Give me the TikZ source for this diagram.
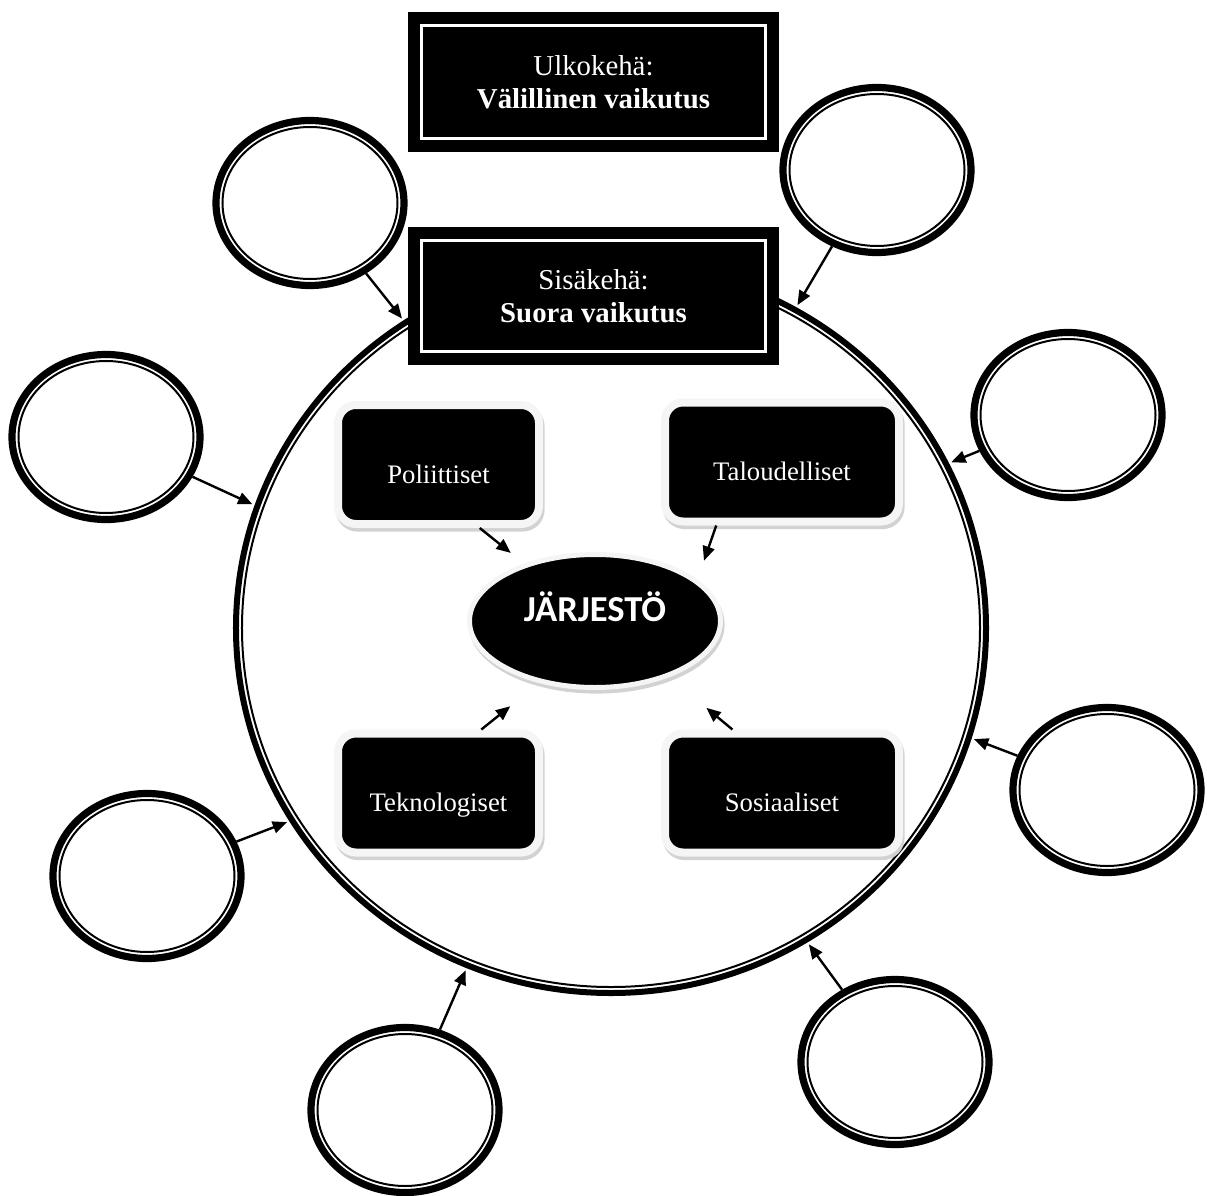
\documentclass[tikz,border=0pt]{standalone}
\usepackage{fontspec}
\setmainfont{Liberation Serif}
\newfontfamily\orgfont{Carlito}
\usepackage{tikz}
\usetikzlibrary{arrows.meta}
\usetikzlibrary{shapes.geometric,shadows}

\begin{document}
\begin{tikzpicture}[x=0.25mm,y=-0.25mm,
    ring/.style={draw,ellipse,line width=1.8mm,minimum width=47mm,minimum height=41.25mm,inner sep=0pt},
    head/.style={fill=black,text=white,align=center,minimum width=92.75mm,inner sep=0pt,font=\fontsize{20.5}{23.5}\selectfont},
    factor/.style={fill=black,draw=gray!8,line width=2mm,rounded corners=4.5mm,text=white,minimum height=29.75mm,inner sep=0pt,
      text height=31pt,text depth=4pt,font=\fontsize{19}{23}\selectfont,
      drop shadow={shadow xshift=0.4mm,shadow yshift=-0.9mm,fill=gray!35,draw=gray!35,line width=2mm,opacity=1}},
    link/.style={-{Triangle[length=3.6mm,width=3mm]},line width=0.6mm}]
  \useasboundingbox (0,0) rectangle (1207,1196);
  % environment ring
  \node[draw,ellipse,line width=1.5mm,minimum width=187.5mm,minimum height=182.5mm,inner sep=0pt] (env) at (611,628) {};
  \draw[line width=0.5mm] (env.center) ellipse [x radius=92.25mm,y radius=89.75mm];
  % outer circle of empty rings
  \foreach \n/\x/\y in {tl/310/203,tr/877/170,ru/1068/415,l/106/437,ll/147/876,rl/1107/790,bl/405/1110,br/895/1062}
  {
    \node[ring] (\n) at (\x,\y) {};
    \draw[line width=0.5mm] (\n.center) ellipse [x radius=21.875mm,y radius=19mm];
  }
  \foreach \n/\a in {tl/124,tr/60,ru/26,l/161,ll/211,rl/-17,bl/247,br/-58}
    \draw[link,shorten >=0.6mm] (\n) -- (env.\a);
  % headings
  \node[head,minimum height=35mm] (outer) at (593.5,82) {Ulkokehä:\\\textbf{Välillinen vaikutus}};
  \draw[white,line width=0.8mm] ([shift={(14,14)}]outer.north west) rectangle ([shift={(-14,-14)}]outer.south east);
  \node[head,minimum height=34.5mm] (inner) at (593.5,296) {Sisäkehä:\\\textbf{Suora vaikutus}};
  \draw[white,line width=0.8mm] ([shift={(14,14)}]inner.north west) rectangle ([shift={(-14,-14)}]inner.south east);
  % factors
  \node[factor,minimum width=50.25mm] (pol) at (438.5,464.5) {Poliittiset};
  \node[factor,minimum width=58.5mm] (tal) at (782,462) {Taloudelliset};
  \node[factor,minimum width=50.25mm] (tek) at (438.5,793) {Teknologiset};
  \node[factor,minimum width=58.5mm] (soc) at (782,793) {Sosiaaliset};
  \node[ellipse,fill=black,draw=gray!8,line width=1.25mm,minimum width=62.75mm,minimum height=33.25mm,inner sep=0pt,text=white,
    text depth=21pt,font=\orgfont\bfseries\fontsize{26}{30}\selectfont,
    drop shadow={shadow xshift=0.4mm,shadow yshift=-0.9mm,fill=gray!35,draw=gray!35,line width=1.25mm,opacity=1}] (org) at (595,621) {JÄRJESTÖ};
  \draw[link,shorten >=4.25mm] (pol.-57) -- (org.141);
  \draw[link,shorten >=5mm] (tal.224) -- (org.22);
  \draw[link,shorten >=9.25mm] (tek.56) -- (org.228);
  \draw[link,shorten >=12mm] (soc.128) -- (org.-37);
\end{tikzpicture}
\end{document}
